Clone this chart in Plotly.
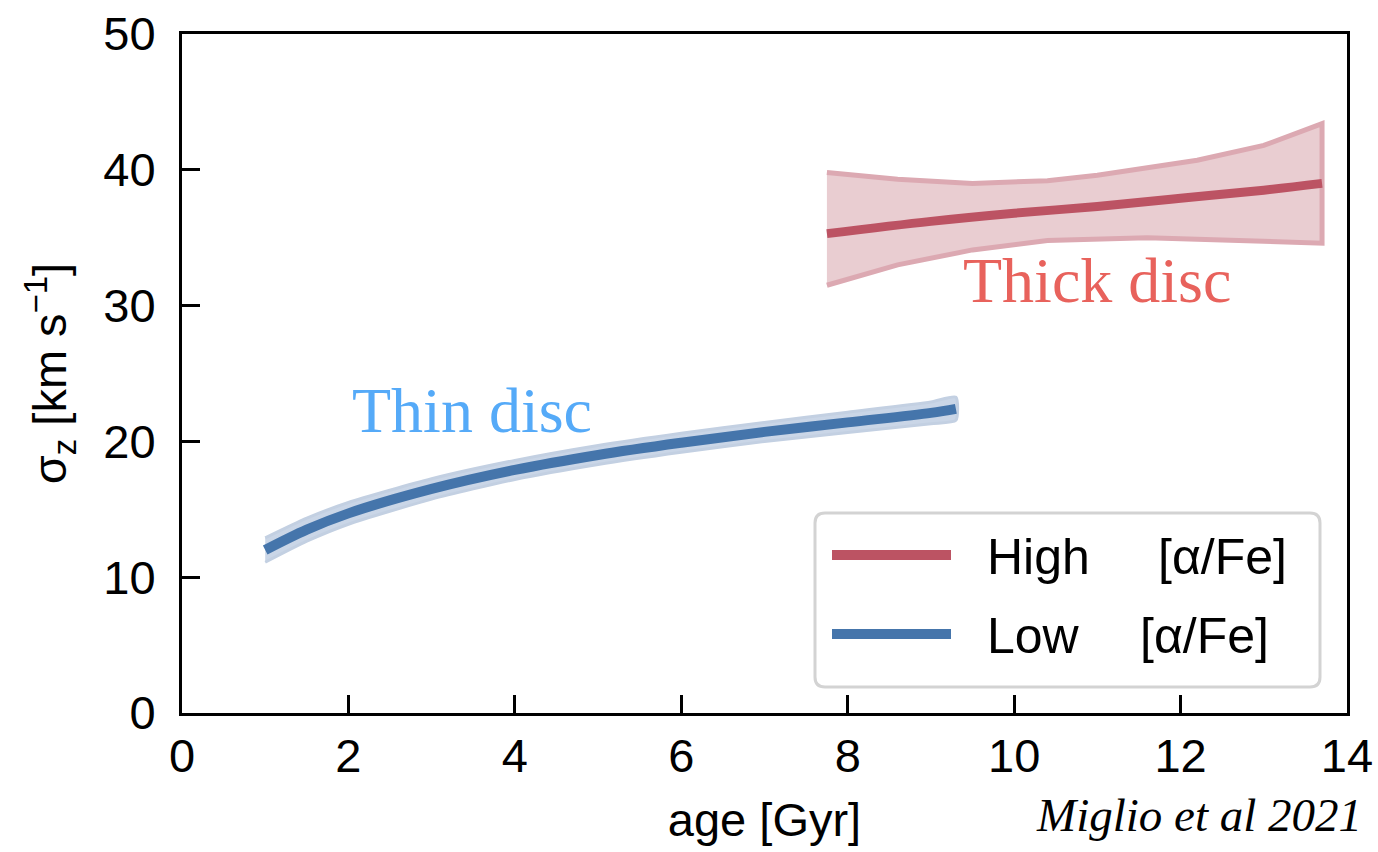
import plotly.graph_objects as go

# ---- data ----
thin_age = [1.0, 1.5, 2.0, 3.0, 4.0, 5.0, 6.0, 7.0, 8.0, 9.0, 9.3]
thin_sigma = [12.0, 13.5, 14.7, 16.5, 17.9, 19.0, 19.9, 20.7, 21.4, 22.1, 22.4]
thin_err = [0.9, 0.85, 0.8, 0.75, 0.7, 0.7, 0.7, 0.7, 0.75, 0.8, 0.85]

thick_age = [7.75, 9.0, 10.0, 11.0, 12.0, 13.0, 13.7]
thick_sigma = [35.3, 36.2, 36.8, 37.3, 37.9, 38.5, 39.0]
thick_upper_age = [7.75, 8.6, 9.5, 10.4, 11.0, 12.2, 13.0, 13.7]
thick_upper = [39.8, 39.3, 39.0, 39.2, 39.6, 40.7, 41.8, 43.4]
thick_lower_age = [7.75, 8.6, 9.5, 10.4, 11.6, 12.8, 13.7]
thick_lower = [31.5, 33.0, 34.1, 34.8, 35.0, 34.8, 34.6]

legend_names = ["High", "Low"]
legend_suffix = "[α/Fe]"

RED = "#BC5363"
BLUE = "#4575AB"

fig = go.Figure()

# thick disc band
fig.add_trace(go.Scatter(
    x=thick_upper_age + thick_lower_age[::-1],
    y=thick_upper + thick_lower[::-1],
    fill="toself", fillcolor="#E9CDD1",
    line=dict(color="#DCA9B2", width=5),
    mode="lines", showlegend=False, hoverinfo="skip"))
fig.add_trace(go.Scatter(
    x=thick_age, y=thick_sigma, mode="lines",
    line=dict(color=RED, width=9, shape="spline"),
    name=legend_names[0], showlegend=False))

# thin disc band
up = [s + e for s, e in zip(thin_sigma, thin_err)]
lo = [s - e for s, e in zip(thin_sigma, thin_err)]
fig.add_trace(go.Scatter(
    x=thin_age + thin_age[::-1], y=up + lo[::-1],
    fill="toself", fillcolor="#CAD6E7",
    line=dict(color="#C3D0E2", width=3, shape="spline", smoothing=0.6),
    mode="lines", showlegend=False, hoverinfo="skip"))
fig.add_trace(go.Scatter(
    x=thin_age, y=thin_sigma, mode="lines",
    line=dict(color=BLUE, width=10, shape="spline"),
    name=legend_names[1], showlegend=False))

# ---- manual legend (paper coords) ----
W0, H0 = 1165.0, 679.0
def px(xp):
    return (xp - 182) / W0
def py(yp):
    return (713 - yp) / H0

x0, x1, y0, y1 = px(815), px(1320), py(687), py(513)
rx, ry = 10 / W0, 10 / H0
path = (f"M {x0+rx},{y0} L {x1-rx},{y0} Q {x1},{y0} {x1},{y0+ry} "
        f"L {x1},{y1-ry} Q {x1},{y1} {x1-rx},{y1} L {x0+rx},{y1} "
        f"Q {x0},{y1} {x0},{y1-ry} L {x0},{y0+ry} Q {x0},{y0} {x0+rx},{y0} Z")
fig.add_shape(type="path", path=path, xref="paper", yref="paper",
              line=dict(color="#D3D3D3", width=3), fillcolor="rgba(255,255,255,0.85)")
leg_font = dict(family="Liberation Sans, Arial", size=50, color="black")
for name, col, yy, sx in zip(legend_names, [RED, BLUE], [557, 636], [1156, 1138]):
    fig.add_shape(type="line", xref="paper", yref="paper",
                  x0=px(832), x1=px(951), y0=py(yy - 2), y1=py(yy - 2),
                  line=dict(color=col, width=10))
    fig.add_annotation(x=px(985), y=py(yy), xref="paper", yref="paper",
                       text=name, showarrow=False, xanchor="left", yanchor="middle",
                       font=leg_font)
    fig.add_annotation(x=px(sx), y=py(yy), xref="paper", yref="paper",
                       text=legend_suffix, showarrow=False, xanchor="left", yanchor="middle",
                       font=leg_font)

# ---- text labels ----
fig.add_annotation(x=px(350), y=py(410), xref="paper", yref="paper",
                   text="Thin disc", showarrow=False, xanchor="left", yanchor="middle",
                   font=dict(family="Liberation Serif, Times New Roman", size=64, color="#55AAF8"))
fig.add_annotation(x=px(961), y=py(280), xref="paper", yref="paper",
                   text="Thick disc", showarrow=False, xanchor="left", yanchor="middle",
                   font=dict(family="Liberation Serif, Times New Roman", size=64, color="#E8625C"))
fig.add_annotation(x=px(1364), y=py(815), xref="paper", yref="paper",
                   text="<i>Miglio et al 2021</i>", showarrow=False, xanchor="right", yanchor="middle",
                   font=dict(family="Liberation Serif, Times New Roman", size=47, color="black"))

axis_font = dict(family="Liberation Sans, Arial", size=47, color="black")
fig.update_xaxes(range=[0, 14], dtick=2, tick0=0, ticks="inside", ticklen=18, tickwidth=2.5,
                 tickcolor="black", showline=True, linewidth=3, linecolor="black", mirror=True,
                 showgrid=False, zeroline=False, tickfont=axis_font, ticklabelstandoff=0,
                 automargin=False,
                 title=dict(text="age [Gyr]", font=axis_font, standoff=22))
fig.update_yaxes(range=[0, 50], dtick=10, tick0=0, ticks="inside", ticklen=18, tickwidth=2.5,
                 tickcolor="black", showline=True, linewidth=3, linecolor="black", mirror=True,
                 showgrid=False, zeroline=False, tickfont=axis_font, ticklabelstandoff=14,
                 automargin=False,
                 title=dict(text="σ<sub>z</sub> [km s<sup>−1</sup>]", font=axis_font, standoff=22))

fig.update_layout(width=1378, height=852, margin=dict(l=182, r=31, t=34, b=139),
                  plot_bgcolor="white", paper_bgcolor="white", showlegend=False)

fig.write_html("out.html")
